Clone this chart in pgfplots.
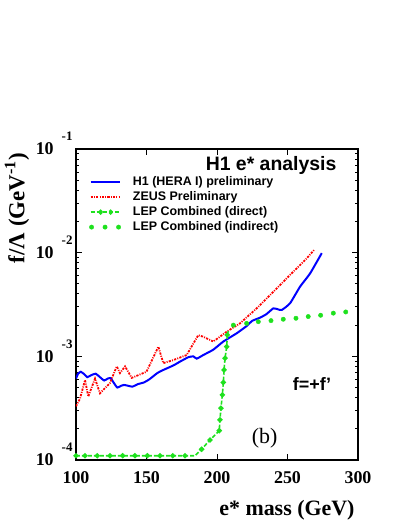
\documentclass[border=0pt]{standalone}
\usepackage{fontspec}
\setmainfont{Liberation Serif}
\newfontfamily\hv{Liberation Sans}
\usepackage{pgfplots}
\pgfplotsset{compat=1.18}

\definecolor{hone}{RGB}{0,0,255}
\definecolor{zeus}{RGB}{255,0,0}
\definecolor{lep}{RGB}{30,225,30}

% y tick label: bold 10 with a raised exponent set well to the right
\newcommand{\ylab}[1]{\textbf{10}\hspace{8bp}\smash{\raisebox{14bp}{\fontsize{13}{13}\selectfont\textbf{#1}}}}

\begin{document}
\begin{tikzpicture}
\useasboundingbox (-76bp,-67bp) rectangle (331bp,460bp);
\begin{axis}[
    scale only axis,
    width=282bp,
    height=311bp,
    xmin=100, xmax=300,
    ymin=1e-4, ymax=1e-1,
    ymode=log,
    axis line style={line width=1.2pt},
    tick style={line width=0.9pt, black},
    tick align=inside,
    major tick length=6bp,
    minor tick length=3bp,
    xtick={100,150,200,250,300},
    xticklabels={\textbf{100},\textbf{150},\textbf{200},\textbf{250},\textbf{300}},
    ytick={1e-4,1e-3,1e-2,1e-1},
    yticklabels={\ylab{-4},\ylab{-3},\ylab{-2},\ylab{-1}},
    ticklabel style={font=\fontsize{18}{20}\selectfont},
    xticklabel style={yshift=-8bp},
    xlabel={\textbf{e* mass (GeV)}},
    xlabel style={font=\fontsize{22}{24}\selectfont, at={(axis description cs:1,0)}, anchor=base east, yshift=-55bp},
    ylabel={\textbf{f/Λ (GeV\textsuperscript{-1})}},
    ylabel style={font=\fontsize{23}{25}\selectfont, at={(axis description cs:-0.209,0.81)}, anchor=center, rotate=0},
    legend style={at={(axis description cs:0.046,0.915)}, anchor=north west,
        draw=none, fill=none, inner sep=0pt, row sep=2bp,
        font=\hv\bfseries\fontsize{12.5}{14}\selectfont,
        nodes={inner sep=1pt, text height=8.5bp, text depth=2.5bp},
        /tikz/every odd column/.style={column sep=11bp}},
    legend cell align=left,
]
\addplot[color=hone, line width=2pt, smooth, tension=0.3,
    legend image code/.code={\draw[color=hone, line width=2pt] (0bp,0bp) -- (29bp,0bp);}]
coordinates {
(100,6.1e-4)(101.5,6.8e-4)(103.4,7.1e-4)(106,6.7e-4)(108,6.3e-4)(111,6.6e-4)
(114,6.8e-4)(117,6.3e-4)(120,5.85e-4)(122.5,6.1e-4)(124.6,6.15e-4)(127,5.5e-4)
(129.3,5.0e-4)(132,5.2e-4)(134,5.3e-4)(137,5.2e-4)(140,5.1e-4)(144,5.4e-4)
(148.2,5.6e-4)(152,6.0e-4)(157.7,6.9e-4)(162,7.4e-4)(166.7,7.9e-4)(170,8.3e-4)
(173.8,8.9e-4)(179.6,9.8e-4)(183.2,1.0e-3)(185.6,9.5e-4)(190.3,1.03e-3)
(197.4,1.16e-3)(204.5,1.39e-3)(214,1.67e-3)(221,1.96e-3)(225,2.2e-3)
(230.5,2.36e-3)(235,2.55e-3)(239.9,2.9e-3)(243,2.85e-3)(245.9,2.8e-3)
(251.8,3.25e-3)(258.9,4.7e-3)(266,6.3e-3)(274.3,9.9e-3)
};
\addlegendentry{H1 (HERA I) preliminary}

\addplot[color=zeus, line width=1.8pt, dash pattern=on 2.2bp off 1.2bp on 1bp off 1.2bp,
    legend image code/.code={\draw[color=zeus, line width=1.8pt, dash pattern=on 2.2bp off 1.2bp on 1bp off 1.2bp] (0bp,0bp) -- (29bp,0bp);}]
coordinates {
(100,3.3e-4)(102.8,3.9e-4)(106.4,5.9e-4)(108.7,4.1e-4)(113.5,6.1e-4)(117,4.4e-4)
(124,5.5e-4)(128.9,8.0e-4)(131.2,6.9e-4)(134.8,8.0e-4)(139.5,6.2e-4)(150,7.1e-4)
(158.4,1.24e-3)(161.9,8.6e-4)(169,9.2e-4)(178.5,1.03e-3)(186.7,1.6e-3)
(190,1.55e-3)(197.4,1.39e-3)(206.9,1.73e-3)(216.3,2.08e-3)(228.2,2.91e-3)
(240,4.2e-3)(251.8,6.1e-3)(263.6,8.8e-3)(268.8,1.06e-2)
};
\addlegendentry{ZEUS Preliminary}

\addplot[color=lep, line width=1.6pt, dash pattern=on 4bp off 2bp,
    mark=*, mark size=1.8pt, mark options={solid, fill=lep, draw=lep},
    mark indices={1,2,3,4,5,6,7,8,9,10,12,13,14,15,16,17,18,19,20,21,22},
    legend image code/.code={\draw[color=lep, line width=1.6pt, dash pattern=on 4bp off 2bp] (0bp,0bp) -- (29bp,0bp);
        \fill[lep] (10bp,0bp) circle (1.8pt) (20bp,0bp) circle (1.8pt);}]
coordinates {
(100,1.1e-4)(106.4,1.1e-4)(115.1,1.1e-4)(124.1,1.1e-4)(133.1,1.1e-4)
(141.8,1.1e-4)(150.6,1.1e-4)(159.6,1.1e-4)(168.6,1.1e-4)(177.3,1.1e-4)
(184.4,1.1e-4)(189.1,1.27e-4)(195,1.56e-4)(201.6,1.92e-4)(202.1,2.44e-4)
(202.8,3.16e-4)(203.8,4.25e-4)(204.5,5.6e-4)(205,7.4e-4)(205.7,9.6e-4)
(206.9,1.24e-3)(207.3,1.61e-3)(208,1.75e-3)
};
\addlegendentry{LEP Combined (direct)}

\addplot[only marks, mark=*, mark size=2.2pt, color=lep,
    legend image code/.code={\fill[lep] (1bp,0bp) circle (2.2pt) (14.5bp,0bp) circle (2.2pt) (28bp,0bp) circle (2.2pt);}]
coordinates {
(211.6,2.0e-3)(221,2.08e-3)(229.3,2.16e-3)(238.3,2.21e-3)(247,2.28e-3)
(256,2.33e-3)(264.7,2.42e-3)(273.5,2.49e-3)(282.5,2.61e-3)(291.3,2.68e-3)
};
\addlegendentry{LEP Combined (indirect)}

\node[anchor=base east, font=\hv\bfseries\fontsize{19.5}{21}\selectfont]
    at (axis description cs:0.936,0.93) {H1 e* analysis};
\node[font=\hv\bfseries\fontsize{18}{20}\selectfont] at (axis cs:267.4,5.4e-4) {f=+f’};
\node[font=\fontsize{22}{24}\selectfont] at (axis cs:233.8,1.63e-4) {(b)};
\end{axis}
\end{tikzpicture}
\end{document}
